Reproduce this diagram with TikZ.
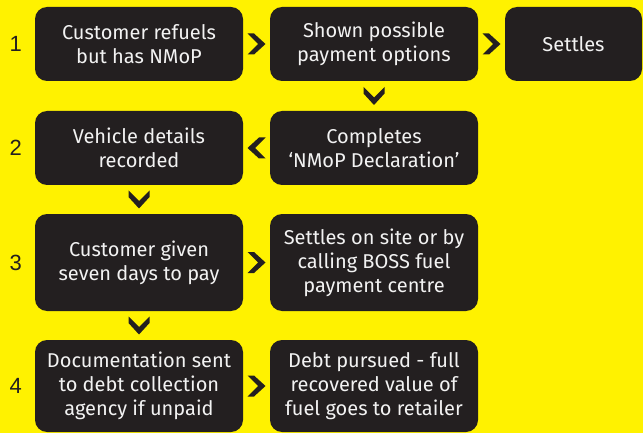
\documentclass[tikz,border=0pt]{standalone}
\usepackage{fontspec}
\setmainfont{Fira Sans}
\newfontfamily\numfont{Liberation Sans}
\usetikzlibrary{calc}
\definecolor{bgyellow}{HTML}{FFF200}
\definecolor{boxdark}{HTML}{231F20}
\definecolor{boxtext}{HTML}{F2F2F2}
\tikzset{
  stepbox/.style={fill=boxdark, rounded corners=12pt, text=boxtext, align=center,
    inner sep=0pt, font=\fontsize{20}{24}\selectfont},
  numlabel/.style={text=boxdark, font=\numfont\fontsize{22}{24}\selectfont},
  chev/.pic={\fill[boxdark] (-9,-10.5) -- (-2.5,-10.5) -- (9,0) -- (-2.5,10.5) -- (-9,10.5) -- (1.5,0) -- cycle;}
}
\begin{document}
\begin{tikzpicture}[x=1pt,y=-1pt]
\fill[bgyellow] (0,0) rectangle (643,433);
\useasboundingbox (0,0) rectangle (643,433);
% row 1
\node[stepbox, minimum width=208pt, minimum height=74pt] (b1) at (139,44) {Customer refuels\\but has NMoP};
\node[stepbox, minimum width=208pt, minimum height=74pt] (b1b) at (374,44) {Shown possible\\payment options};
\node[stepbox, minimum width=137pt, minimum height=74pt] (b1c) at (573.5,44) {Settles};
% row 2
\node[stepbox, minimum width=208pt, minimum height=74pt] (b2) at (139,148) {Vehicle details\\recorded};
\node[stepbox, minimum width=208pt, minimum height=74pt] (b2b) at (374,148) {Completes\\‘NMoP Declaration’};
% row 3
\node[stepbox, minimum width=208pt, minimum height=97pt] (b3) at (139,262.5) {Customer given\\seven days to pay};
\node[stepbox, minimum width=208pt, minimum height=97pt] (b3b) at (374,262.5) {Settles on site or by\\calling BOSS fuel\\payment centre};
% row 4
\node[stepbox, minimum width=208pt, minimum height=92pt] (b4) at (139,386) {Documentation sent\\to debt collection\\agency if unpaid};
\node[stepbox, minimum width=208pt, minimum height=92pt] (b4b) at (374,386) {Debt pursued - full\\recovered value of\\fuel goes to retailer};
% numbers
\node[numlabel] (n1) at ([xshift=-19pt]b1.west) {1};
\node[numlabel] (n2) at ([xshift=-19pt]b2.west) {2};
\node[numlabel] (n3) at ([xshift=-19pt]b3.west) {3};
\node[numlabel] (n4) at ([xshift=-19pt]b4.west) {4};
% chevrons
\pic at ($(b1.east)!0.5!(b1b.west)$) {chev};
\pic at ($(b1b.east)!0.5!(b1c.west)$) {chev};
\pic[rotate=-90] at ($(b1b.south)!0.5!(b2b.north)$) {chev};
\pic[rotate=180] at ($(b2b.west)!0.5!(b2.east)$) {chev};
\pic[rotate=-90] at ($(b2.south)!0.5!(b3.north)$) {chev};
\pic at ($(b3.east)!0.5!(b3b.west)$) {chev};
\pic[rotate=-90] at ($(b3.south)!0.5!(b4.north)$) {chev};
\pic at ($(b4.east)!0.5!(b4b.west)$) {chev};
\end{tikzpicture}
\end{document}
